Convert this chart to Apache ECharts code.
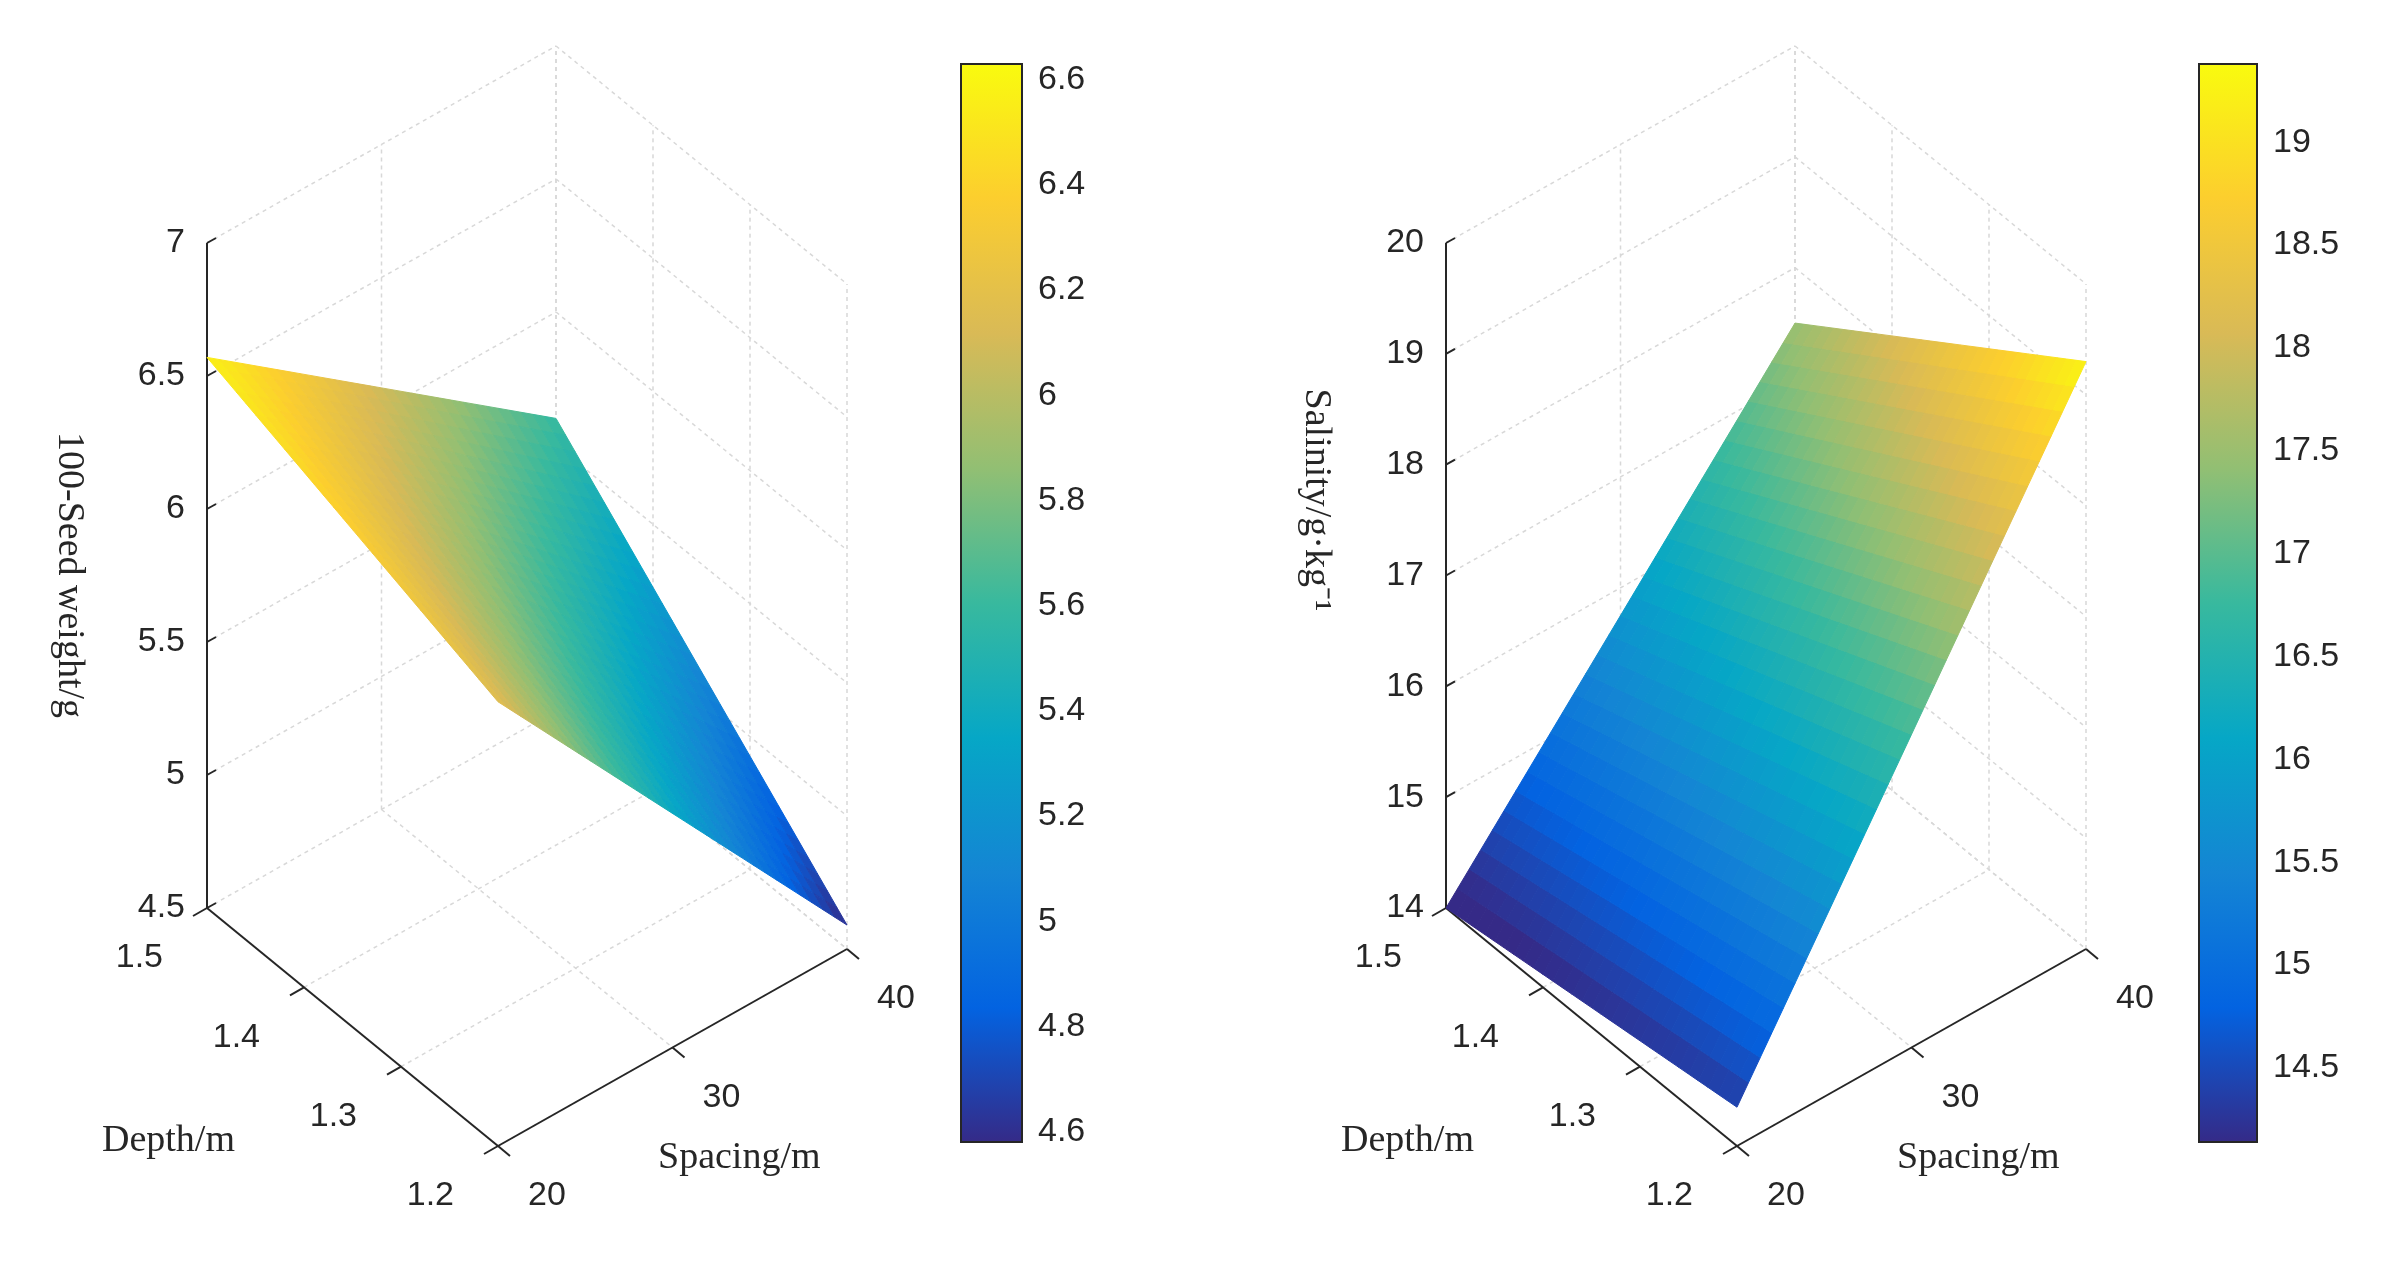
<!DOCTYPE html>
<html>
<head>
<meta charset="utf-8">
<script src="https://cdn.jsdelivr.net/npm/echarts@6/dist/echarts.min.js"></script>
<style>html,body{margin:0;background:#fff}#c{width:2387px;height:1275px}</style>
</head>
<body>
<div id="c"></div>
<script>
// axes of the two plots
var spacingTicks = [20, 30, 40];
var depthTicks = [1.5, 1.4, 1.3, 1.2];
var seedTicks = [4.5, 5, 5.5, 6, 6.5, 7];
var salinityTicks = [14, 15, 16, 17, 18, 19, 20];

// surface corner values: rows depth [1.5, 1.2], cols spacing [20, 40]
var seedWeight = [[6.57, 5.60], [6.17, 4.59]];
var salinity = [[14.0, 17.5], [14.35, 19.3]];

// colorbar ranges and ticks
var seedBar = [4.58, 6.63];
var seedBarTicks = [4.6, 4.8, 5, 5.2, 5.4, 5.6, 5.8, 6, 6.2, 6.4, 6.6];
var salBar = [14.14, 19.38];
var salBarTicks = [14.5, 15, 15.5, 16, 16.5, 17, 17.5, 18, 18.5, 19];

var parula = [
    [0, [53, 42, 135]], [0.125, [3, 99, 225]], [0.25, [20, 133, 212]],
    [0.375, [6, 167, 198]], [0.5, [56, 185, 158]], [0.625, [146, 191, 115]],
    [0.75, [217, 186, 86]], [0.875, [252, 206, 46]], [1, [249, 251, 14]]
];
function cmap(t) {
    t = Math.max(0, Math.min(1, t));
    for (var i = 1; i < parula.length; i++) {
        if (t <= parula[i][0]) {
            var a = parula[i - 1], b = parula[i];
            var f = (t - a[0]) / (b[0] - a[0]);
            var c = a[1].map(function (v, k) { return Math.round(v + (b[1][k] - v) * f); });
            return 'rgb(' + c.join(',') + ')';
        }
    }
}

var tickFont = '34px "Liberation Sans", Arial';
var labelFont = '38px "Liberation Serif", serif';
var N = 30;

function makePlot(o) {
    var zmin = o.zTicks[0], zmax = o.zTicks[o.zTicks.length - 1];
    function P(sp, d, z) {
        var u = (sp - 20) / 20, v = (1.5 - d) / 0.3, w = (z - zmin) / (zmax - zmin);
        return [o.ax + u * 349 + v * 291, o.ay - u * 197 + v * 238 - w * 665];
    }
    function line(a, b, dashed, color) {
        return { type: 'line', shape: { x1: a[0], y1: a[1], x2: b[0], y2: b[1] },
            style: { stroke: color || '#d8d8d8', lineWidth: dashed ? 1.5 : 2, lineDash: dashed ? [4, 4] : null } };
    }
    function text(p, s, font, align, vAlign, rot) {
        return { type: 'text', x: p[0], y: p[1], rotation: rot || 0,
            style: { text: s, font: font, fill: '#262626', align: align, verticalAlign: vAlign } };
    }
    var frame = {
        type: 'custom', coordinateSystem: 'none', silent: true, z: 1, data: [0],
        renderItem: function () {
            var ch = [];
            o.zTicks.forEach(function (z) {
                ch.push(line(P(20, 1.5, z), P(40, 1.5, z), true));
                ch.push(line(P(40, 1.5, z), P(40, 1.2, z), true));
            });
            spacingTicks.forEach(function (s) {
                ch.push(line(P(s, 1.5, zmin), P(s, 1.5, zmax), true));
                if (s > 20) ch.push(line(P(s, 1.5, zmin), P(s, 1.2, zmin), true));
            });
            depthTicks.forEach(function (d) {
                ch.push(line(P(40, d, zmin), P(40, d, zmax), true));
                if (d < 1.5) ch.push(line(P(20, d, zmin), P(40, d, zmin), true));
            });
            ch.push(line(P(20, 1.5, zmin), P(20, 1.5, zmax), false, '#262626'));
            ch.push(line(P(20, 1.5, zmin), P(20, 1.2, zmin), false, '#262626'));
            ch.push(line(P(20, 1.2, zmin), P(40, 1.2, zmin), false, '#262626'));
            o.zTicks.forEach(function (z) {
                var p = P(20, 1.5, z);
                ch.push(line(p, [p[0] + 9, p[1] - 5], false, '#262626'));
                ch.push(text([p[0] - 22, p[1]], String(z), tickFont, 'right', 'middle'));
            });
            depthTicks.forEach(function (d) {
                var p = P(20, d, zmin);
                ch.push(line(p, [p[0] - 14, p[1] + 8], false, '#262626'));
                ch.push(text([p[0] - 44, p[1] + 50], String(d), tickFont, 'right', 'middle'));
            });
            spacingTicks.forEach(function (s) {
                var p = P(s, 1.2, zmin);
                ch.push(line(p, [p[0] + 12, p[1] + 10], false, '#262626'));
                ch.push(text([p[0] + 30, p[1] + 50], String(s), tickFont, 'left', 'middle'));
            });
            var b = P(20, 1.2, zmin);
            ch.push(text([o.ax - 105, b[1] - 5], 'Depth/m', labelFont, 'left', 'middle'));
            ch.push(text([b[0] + 160, b[1] + 12], 'Spacing/m', labelFont, 'left', 'middle'));
            ch.push(text([o.ax - o.ylabDx, o.ay - 333 + o.ylabDy], o.ylab, labelFont, 'center', 'middle', -Math.PI / 2));
            return { type: 'group', children: ch };
        }
    };
    var cells = [];
    for (var i = 0; i < N; i++) for (var j = 0; j < N; j++) cells.push([i, j]);
    function val(fi, fj) {
        var v = o.vals;
        return (1 - fi) * ((1 - fj) * v[0][0] + fj * v[0][1]) + fi * ((1 - fj) * v[1][0] + fj * v[1][1]);
    }
    function pt(fi, fj) { return P(20 + 20 * fj, 1.5 - 0.3 * fi, val(fi, fj)); }
    var surface = {
        type: 'custom', coordinateSystem: 'none', silent: true, z: 2, data: cells,
        renderItem: function (params, api) {
            var i = api.value(0), j = api.value(1);
            var a = i / N, b = (i + 1) / N, c = j / N, d = (j + 1) / N;
            var col = cmap((val((a + b) / 2, (c + d) / 2) - o.bar[0]) / (o.bar[1] - o.bar[0]));
            return { type: 'polygon', shape: { points: [pt(a, c), pt(a, d), pt(b, d), pt(b, c)] },
                style: { fill: col, stroke: col, lineWidth: 1 } };
        }
    };
    return [frame, surface];
}

var series = [].concat(
    makePlot({ ax: 207, ay: 908, zTicks: seedTicks, vals: seedWeight, bar: seedBar,
        ylab: '100-Seed weight/g', ylabDx: 138, ylabDy: 0 }),
    makePlot({ ax: 1446, ay: 908, zTicks: salinityTicks, vals: salinity, bar: salBar,
        ylab: 'Salinity/g·kg⁻¹', ylabDx: 130, ylabDy: -75 })
);

var grids = [
    { left: 961, top: 64, width: 61, height: 1078 },
    { left: 2199, top: 64, width: 58, height: 1078 }
];
var bars = [seedBar, salBar], barTicks = [seedBarTicks, salBarTicks];
var xAxes = [], yAxes = [];
bars.forEach(function (r, k) {
    xAxes.push({ gridIndex: k, type: 'category', data: ['c'], show: false });
    yAxes.push({ gridIndex: k, type: 'value', min: r[0], max: r[1], position: 'right',
        axisLine: { show: true, lineStyle: { color: '#262626', width: 2 } },
        axisTick: { inside: true, length: 10, customValues: barTicks[k], lineStyle: { color: '#262626', width: 2 } },
        axisLabel: { customValues: barTicks[k], fontSize: 34, fontFamily: 'Liberation Sans', color: '#262626', margin: 16 },
        splitLine: { show: false } });
    series.push({
        type: 'custom', xAxisIndex: k, yAxisIndex: k, data: [[0, r[0], r[1]]], silent: true,
        renderItem: function (params, api) {
            var cs = params.coordSys;
            var stops = parula.map(function (s) { return { offset: 1 - s[0], color: 'rgb(' + s[1].join(',') + ')' }; });
            return { type: 'rect', shape: { x: cs.x, y: cs.y, width: cs.width, height: cs.height },
                style: { fill: new echarts.graphic.LinearGradient(0, 0, 0, 1, stops), stroke: '#262626', lineWidth: 2 } };
        }
    });
});

var chart = echarts.init(document.getElementById('c'));
chart.setOption({
    animation: false,
    backgroundColor: '#fff',
    grid: grids, xAxis: xAxes, yAxis: yAxes,
    series: series
});
</script>
</body>
</html>
